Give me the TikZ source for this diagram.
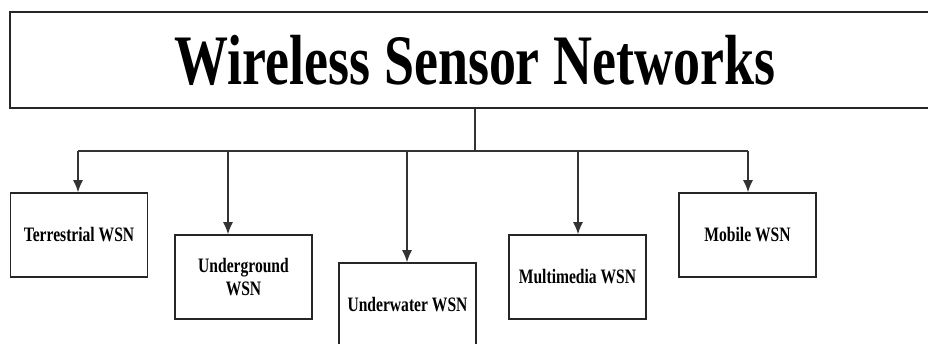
\documentclass[tikz,border=0pt]{standalone}
\usepackage{fontspec}
\setmainfont{Liberation Serif}[FakeStretch=0.76]
\usetikzlibrary{arrows.meta}
\begin{document}
\begin{tikzpicture}[x=1pt,y=-1pt,
  frame/.style={draw=black!85, line width=1.6pt, fill=white},
  leaf/.style={frame, minimum width=137pt, minimum height=84pt, inner sep=0pt,
    align=center, font=\fontsize{20.5}{23}\selectfont\bfseries},
  link/.style={draw=black!80, line width=1.3pt},
  arrow/.style={link, -{Latex[length=12pt,width=10pt]}}]
\useasboundingbox (0,0) rectangle (928,344);
\clip (0,0) rectangle (928,344);
\fill[white] (0,0) rectangle (928,344);

% heading box (runs past the right edge)
\node[frame, minimum width=930pt, minimum height=96pt, inner sep=0pt,
  font=\fontsize{71}{74}\selectfont\bfseries] (wsn) at (475,60) {Wireless Sensor Networks};

% categories
\node[leaf] (terr)   at (79,235)    {Terrestrial WSN};
\node[leaf] (ground) at (243.5,277) {Underground\\WSN};
\node[leaf] (water)  at (407.5,305) {Underwater WSN};
\node[leaf] (multi)  at (577.5,277) {Multimedia WSN};
\node[leaf] (mobile) at (747.5,235) {Mobile WSN};

% bus line
\coordinate (hub) at (475,151);
\coordinate (b1) at (78,151);
\coordinate (b2) at (228,151);
\coordinate (b3) at (407,151);
\coordinate (b4) at (578,151);
\coordinate (b5) at (748,151);
\draw[link] (wsn.south -| hub) -- (hub);
\draw[link] (b1) -- (b5);

\draw[arrow] (b1) -- (b1 |- terr.north);
\draw[arrow] (b2) -- (b2 |- ground.north);
\draw[arrow] (b3) -- (b3 |- water.north);
\draw[arrow] (b4) -- (b4 |- multi.north);
\draw[arrow] (b5) -- (b5 |- mobile.north);
\end{tikzpicture}
\end{document}
